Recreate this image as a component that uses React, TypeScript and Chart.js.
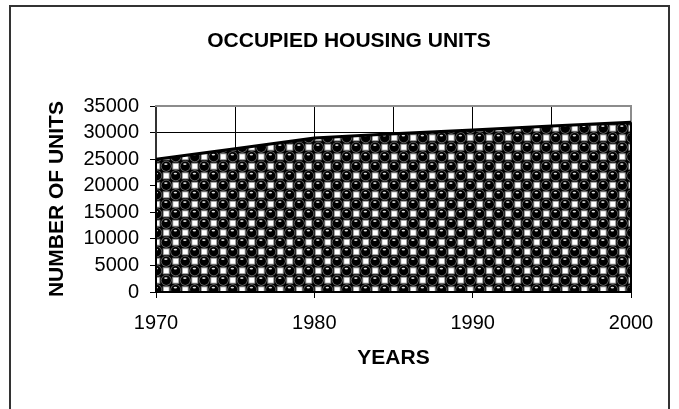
import React, { useEffect, useRef } from "react";
import { Chart, registerables } from "chart.js";

Chart.register(...registerables);

// ---- data ----
const years = [1970, 1975, 1980, 1985, 1990, 1995, 2000];
const units = [25000, 27000, 29000, 29800, 30500, 31250, 32000];
const chartTitle = "OCCUPIED HOUSING UNITS";
const xTitle = "YEARS";
const yTitle = "NUMBER OF UNITS";
const yTickValues = [0, 5000, 10000, 15000, 20000, 25000, 30000, 35000];
const xLabelYears = [1970, 1980, 1990, 2000];

const FONT = "'Liberation Sans', Arial, sans-serif";

function makePattern(): CanvasPattern | string {
  const T = 19;
  const c = document.createElement("canvas");
  c.width = T;
  c.height = T;
  const g = c.getContext("2d");
  if (!g) return "#000";
  g.fillStyle = "#000";
  g.fillRect(0, 0, T, T);
  const a = T / 4;
  const b = (3 * T) / 4;
  const sq = 5;
  const square = (cx: number, cy: number) => {
    g.fillStyle = "#8a8a8a";
    g.fillRect(cx - sq / 2 - 1, cy - sq / 2 - 1, sq + 2, sq + 2);
    g.fillStyle = "#fff";
    g.fillRect(cx - sq / 2, cy - sq / 2, sq, sq);
  };
  const sphere = (cx: number, cy: number) => {
    g.beginPath();
    g.arc(cx, cy, 5.4, 0, Math.PI * 2);
    g.fillStyle = "#707070";
    g.fill();
    g.beginPath();
    g.arc(cx, cy, 4.7, 0, Math.PI * 2);
    g.fillStyle = "#000";
    g.fill();
    g.beginPath();
    g.ellipse(cx - 0.4, cy - 2.2, 1.7, 0.85, 0, 0, Math.PI * 2);
    g.fillStyle = "#e0e0e0";
    g.fill();
  };
  square(b, a);
  square(a, b);
  sphere(a, a);
  sphere(b, b);
  // wrap parts of spheres crossing tile edges
  sphere(a + T, a);
  sphere(a - T, a);
  sphere(a, a + T);
  sphere(a, a - T);
  sphere(b + T, b);
  sphere(b - T, b);
  sphere(b, b + T);
  sphere(b, b - T);
  const ctx2 = document.createElement("canvas").getContext("2d");
  const p = ctx2 ? ctx2.createPattern(c, "repeat") : null;
  return p || "#000";
}

const areaOutline = {
  id: "areaOutline",
  afterDatasetsDraw(chart: any) {
    const meta = chart.getDatasetMeta(0);
    const pts = meta.data;
    if (!pts || !pts.length) return;
    const y0 = chart.scales.y.getPixelForValue(0);
    const first = pts[0];
    const last = pts[pts.length - 1];
    const ctx = chart.ctx;
    ctx.save();
    ctx.strokeStyle = "#000";
    ctx.lineWidth = 2;
    ctx.beginPath();
    ctx.moveTo(first.x, first.y);
    ctx.lineTo(first.x, y0);
    ctx.lineTo(last.x, y0);
    ctx.lineTo(last.x, last.y);
    ctx.stroke();
    ctx.restore();
  },
};

export default function App() {
  const ref = useRef<HTMLCanvasElement | null>(null);

  useEffect(() => {
    if (!ref.current) return;
    Chart.defaults.color = "#000";
    Chart.defaults.font.family = FONT;
    const pattern = makePattern();
    const chart = new Chart(ref.current, {
      type: "line",
      data: {
        datasets: [
          {
            data: years.map((y, i) => ({ x: y, y: units[i] })),
            fill: "origin",
            backgroundColor: pattern as any,
            borderColor: "#000",
            borderWidth: 3,
            pointRadius: 0,
            tension: 0,
          },
        ],
      },
      plugins: [areaOutline],
      options: {
        responsive: false,
        animation: false,
        layout: { padding: { left: 19, right: 0, top: 0, bottom: 0 } },
        plugins: {
          legend: { display: false },
          tooltip: { enabled: false },
          title: {
            display: true,
            text: chartTitle,
            color: "#000",
            font: { family: FONT, size: 21, weight: "bold", lineHeight: 1.2 },
            padding: { top: 29, bottom: 52 },
          },
        },
        scales: {
          x: {
            type: "linear",
            position: "bottom",
            min: 1970,
            max: 2000,
            afterFit: (s: any) => {
              s.height = 117;
            },
            afterBuildTicks: (s: any) => {
              s.ticks = years.map((v) => ({ value: v }));
            },
            ticks: {
              padding: 13,
              maxRotation: 0,
              autoSkip: false,
              font: { family: FONT, size: 20 },
              color: "#000",
              callback: (v: any) => (xLabelYears.includes(Number(v)) ? String(v) : ""),
            },
            grid: {
              color: "#000",
              lineWidth: 1,
              tickLength: 6,
              tickColor: (c: any) =>
                c.tick && xLabelYears.includes(c.tick.value) ? "#000" : "rgba(0,0,0,0)",
            },
            border: { display: true, color: "#444", width: 2 },
            title: {
              display: true,
              text: xTitle,
              color: "#000",
              font: { family: FONT, size: 21, weight: "bold", lineHeight: 1.2 },
              padding: { top: 0, bottom: 38 },
            },
          },
          y: {
            type: "linear",
            position: "left",
            min: 0,
            max: 35000,
            afterFit: (s: any) => {
              s.width = 137;
            },
            afterBuildTicks: (s: any) => {
              s.ticks = yTickValues.map((v) => ({ value: v }));
            },
            ticks: {
              padding: 11,
              autoSkip: false,
              font: { family: FONT, size: 20 },
              color: "#000",
              callback: (v: any) => String(v),
            },
            grid: { color: "#000", lineWidth: 1, tickLength: 6, tickColor: "#000" },
            border: { display: true, color: "#333", width: 2 },
            title: {
              display: true,
              text: yTitle,
              color: "#000",
              font: { family: FONT, size: 21, weight: "bold", lineHeight: 1.2 },
              padding: { top: 26, bottom: 0 },
            },
          },
          x2: {
            type: "linear",
            position: "top",
            min: 1970,
            max: 2000,
            afterFit: (s: any) => {
              s.height = 0;
            },
            ticks: { display: false },
            grid: { display: false, drawTicks: false },
            border: { display: true, color: "#8c8c8c", width: 2 },
          },
          y2: {
            type: "linear",
            position: "right",
            min: 0,
            max: 35000,
            afterFit: (s: any) => {
              s.width = 48;
            },
            ticks: { display: false },
            grid: { display: false, drawTicks: false },
            border: { display: true, color: "#8c8c8c", width: 2 },
          },
        },
      } as any,
    });
    return () => chart.destroy();
  }, []);

  return (
    <div
      style={{
        position: "fixed",
        left: 0,
        top: 0,
        width: 679,
        height: 409,
        overflow: "hidden",
        background: "#fff",
      }}
    >
      <div
        style={{
          position: "absolute",
          left: 9,
          top: 5,
          width: 661,
          height: 600,
          border: "2px solid #333",
          boxSizing: "border-box",
        }}
      />
      <canvas
        ref={ref}
        width={679}
        height={409}
        style={{ position: "absolute", left: 0, top: 0, width: 679, height: 409 }}
      />
    </div>
  );
}
